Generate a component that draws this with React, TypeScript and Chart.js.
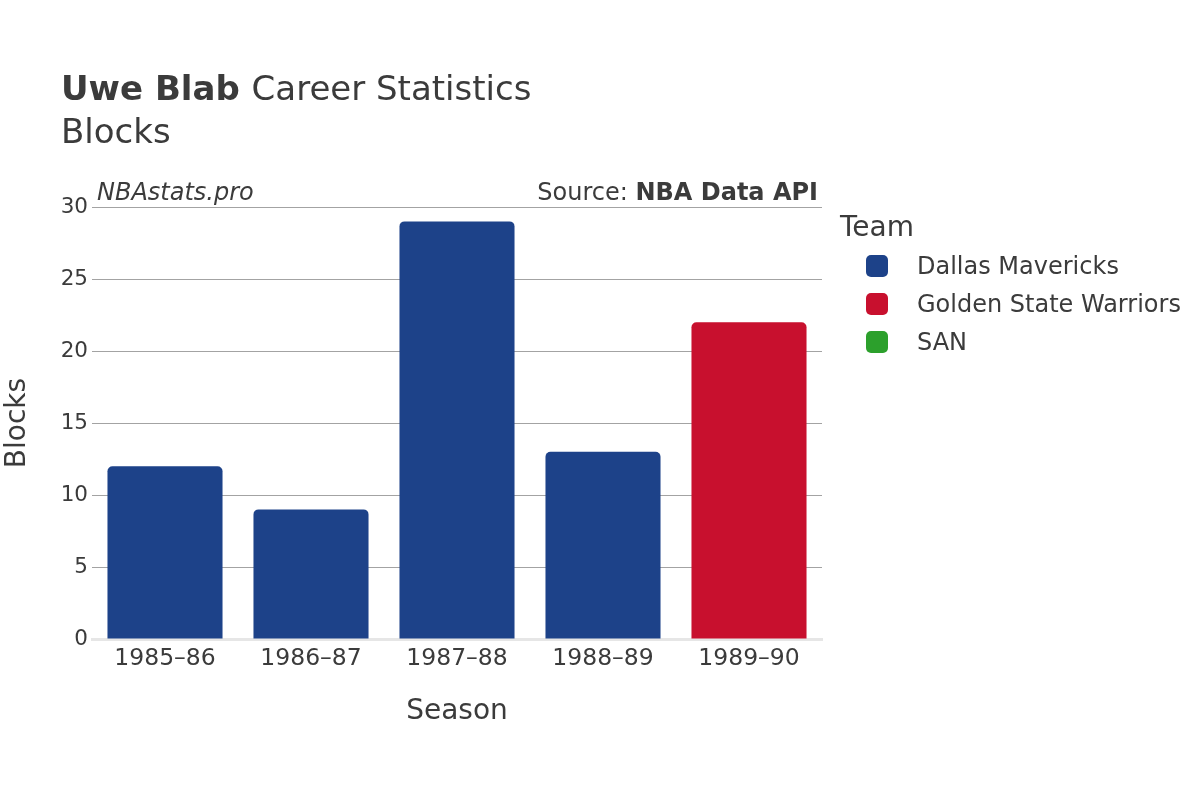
import React, { useEffect, useRef } from "react";
import { Chart, registerables } from "chart.js";

Chart.register(...registerables);

const seasons = ["1985–86", "1986–87", "1987–88", "1988–89", "1989–90"];
const teams = ["Dallas Mavericks", "Golden State Warriors", "SAN"];
const teamColors = ["#1d4289", "#c8102e", "#2ca02c"];
const dallasBlocks = [12, 9, 29, 13, null];
const warriorsBlocks = [null, null, null, null, 22];
const sanBlocks = [null, null, null, null, null];
const yTicks = [0, 5, 10, 15, 20, 25, 30];

const FONT = "'DejaVu Sans', sans-serif";
const TEXT = "#3b3b3b";

const textPlugin = {
  id: "textPlugin",
  afterDraw(chart: any) {
    const ctx = chart.ctx;
    const area = chart.chartArea;
    ctx.save();
    ctx.fillStyle = TEXT;
    ctx.textBaseline = "alphabetic";
    ctx.textAlign = "left";
    // Title
    ctx.font = `bold 34px ${FONT}`;
    ctx.fillText("Uwe Blab", 61, 100);
    const w = ctx.measureText("Uwe Blab ").width;
    ctx.font = `34px ${FONT}`;
    ctx.fillText("Career Statistics", 61 + w, 100);
    ctx.fillText("Blocks", 61, 143);
    // watermark
    ctx.font = `italic 24px ${FONT}`;
    ctx.fillText("NBAstats.pro", 97, 200);
    ctx.textAlign = "right";
    ctx.font = `bold 24px ${FONT}`;
    const bw = ctx.measureText("NBA Data API").width;
    ctx.fillText("NBA Data API", 818, 200);
    ctx.font = `24px ${FONT}`;
    ctx.fillText("Source: ", 818 - bw, 200);
    // axis titles
    ctx.textAlign = "center";
    ctx.textBaseline = "middle";
    ctx.font = `28px ${FONT}`;
    ctx.fillText("Season", (area.left + area.right) / 2, 712);
    ctx.save();
    ctx.translate(18, (area.top + area.bottom) / 2);
    ctx.rotate(-Math.PI / 2);
    ctx.fillText("Blocks", 0, 0);
    ctx.restore();
    // legend
    ctx.textAlign = "left";
    ctx.font = `28px ${FONT}`;
    ctx.fillText("Team", 840, 229);
    ctx.font = `24px ${FONT}`;
    chart.data.datasets.forEach((ds: any, i: number) => {
      const y = 266 + i * 38;
      ctx.fillStyle = ds.backgroundColor;
      ctx.beginPath();
      (ctx as any).roundRect(866, y - 11, 22, 22, 5);
      ctx.fill();
      ctx.fillStyle = TEXT;
      ctx.fillText(ds.label, 917, y + 2);
    });
    ctx.restore();
  },
};

export default function App() {
  const ref = useRef<HTMLCanvasElement>(null);
  useEffect(() => {
    if (!ref.current) return;
    const seriesData = [dallasBlocks, warriorsBlocks, sanBlocks];
    const chart = new Chart(ref.current, {
      type: "bar",
      data: {
        labels: seasons,
        datasets: teams.map((t, i) => ({
          label: t,
          data: seriesData[i] as any,
          backgroundColor: teamColors[i],
          borderRadius: 5,
          borderSkipped: "bottom",
          grouped: false,
          categoryPercentage: 1,
          barPercentage: 0.788,
        })),
      },
      options: {
        responsive: false,
        animation: false,
        layout: { padding: { left: 0, top: 207, right: 378, bottom: 0 } },
        plugins: { legend: { display: false }, tooltip: { enabled: false }, title: { display: false } },
        scales: {
          x: {
            grid: { display: false, drawTicks: false },
            border: { display: true, color: "#e6e6e6", width: 3 },
            ticks: { color: TEXT, font: { family: FONT, size: 23.5 }, padding: 6, maxRotation: 0 },
            afterFit: (s: any) => { s.height = 161; },
          },
          y: {
            min: 0,
            max: 30,
            afterBuildTicks: (s: any) => { s.ticks = yTicks.map((v) => ({ value: v })); },
            grid: {
              drawTicks: false,
              color: (c: any) => (c.tick && c.tick.value === 0 ? "rgba(0,0,0,0)" : "#a3a3a3"),
              lineWidth: 1,
            },
            border: { display: false },
            ticks: { color: TEXT, font: { family: FONT, size: 21.5 }, padding: 4 },
            afterFit: (s: any) => { s.width = 92; },
          },
        },
      },
      plugins: [textPlugin],
    });
    return () => chart.destroy();
  }, []);
  return (
    <div style={{ position: "fixed", left: 0, top: 0, width: 1200, height: 800, background: "#fff" }}>
      <canvas ref={ref} width={1200} height={800} />
    </div>
  );
}
